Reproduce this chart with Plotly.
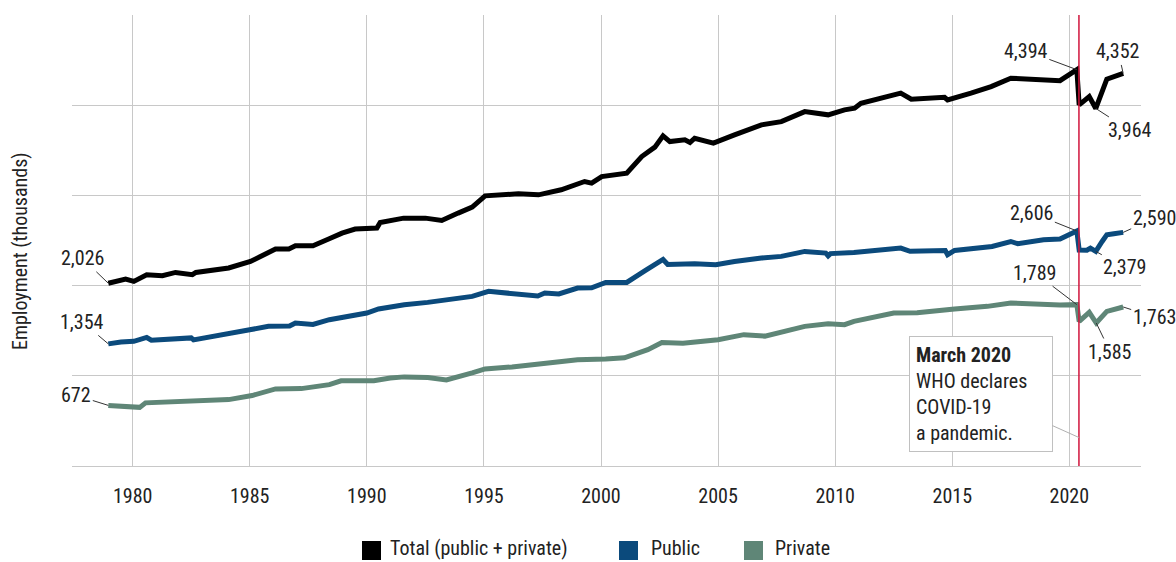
import plotly.graph_objects as go

# ---------------- data (thousands) ----------------
total_years = [1978.96, 1979.7, 1980.05, 1980.6, 1981.27, 1981.83, 1982.55, 1982.7, 1984.1, 1985.03,
               1986.1, 1986.67, 1986.95, 1987.7, 1988.37, 1988.94, 1989.5, 1990.0, 1990.43, 1990.57,
               1991.57, 1992.5, 1993.2, 1993.9, 1994.5, 1995.05, 1995.62, 1996.47, 1997.33, 1998.3,
               1999.3, 1999.6, 2000.03, 2001.1, 2001.74, 2002.3, 2002.65, 2002.94, 2003.58, 2003.8,
               2004.0, 2004.8, 2005.7, 2006.85, 2007.7, 2008.7, 2009.7, 2010.4, 2010.83, 2011.1,
               2012.8, 2013.25, 2014.67, 2014.8, 2015.8, 2016.66, 2017.5, 2018.93, 2019.6, 2020.32,
               2020.42, 2020.85, 2021.13, 2021.6, 2022.3]
total_vals = [2026, 2073, 2047, 2121, 2110, 2146, 2121, 2146, 2195, 2268,
              2405, 2405, 2442, 2442, 2516, 2582, 2627, 2638, 2638, 2700,
              2748, 2748, 2722, 2804, 2870, 2995, 3006, 3017, 3006, 3062,
              3154, 3136, 3209, 3247, 3431, 3535, 3660, 3597, 3616, 3586,
              3634, 3579, 3671, 3782, 3818, 3929, 3893, 3948, 3967, 4022,
              4133, 4066, 4088, 4059, 4133, 4206, 4299, 4280, 4272, 4394,
              4003, 4095, 3964, 4288, 4352]

public_years = [1978.96, 1979.5, 1980.05, 1980.6, 1980.8, 1981.3, 1982.0, 1982.5, 1982.6, 1983.3,
                1984.1, 1985.0, 1985.8, 1986.7, 1986.95, 1987.7, 1988.4, 1989.0, 1989.5, 1990.0,
                1990.5, 1991.6, 1992.6, 1993.6, 1994.5, 1995.2, 1996.2, 1997.3, 1997.6, 1998.2,
                1999.0, 1999.6, 2000.2, 2001.1, 2001.9, 2002.4, 2002.65, 2002.85, 2004.0, 2004.9,
                2005.7, 2006.85, 2007.7, 2008.7, 2009.6, 2009.7, 2009.8, 2010.8, 2011.8, 2012.8,
                2013.2, 2014.7, 2014.8, 2015.1, 2016.7, 2017.5, 2017.8, 2018.9, 2019.6, 2020.32,
                2020.42, 2020.75, 2020.9, 2021.13, 2021.4, 2021.6, 2021.9, 2022.3]
public_vals = [1354, 1375, 1382, 1425, 1395, 1401, 1415, 1420, 1398, 1430,
               1456, 1511, 1548, 1552, 1586, 1570, 1622, 1650, 1678, 1696,
               1741, 1788, 1814, 1844, 1880, 1936, 1918, 1885, 1918, 1907,
               1973, 1975, 2035, 2035, 2168, 2242, 2290, 2235, 2242, 2231,
               2268, 2305, 2324, 2379, 2360, 2330, 2355, 2368, 2390, 2416,
               2380, 2390, 2342, 2390, 2434, 2489, 2464, 2508, 2516, 2606,
               2395, 2392, 2416, 2379, 2489, 2563, 2575, 2590]

private_years = [1978.96, 1979.5, 1980.05, 1980.3, 1980.55, 1981.0, 1982.0, 1983.0, 1984.1, 1985.1,
                 1986.1, 1987.2, 1988.4, 1988.9, 1989.5, 1990.3, 1991.0, 1991.6, 1992.6, 1993.4,
                 1994.5, 1995.05, 1996.2, 1997.6, 1999.0, 2000.2, 2001.0, 2002.0, 2002.6, 2003.5,
                 2004.3, 2005.0, 2006.1, 2007.0, 2008.7, 2009.7, 2010.4, 2010.8, 2012.5, 2013.5,
                 2015.1, 2016.5, 2017.5, 2018.9, 2019.6, 2020.32, 2020.42, 2020.85, 2021.15, 2021.6,
                 2022.3]
private_vals = [672, 660, 644, 650, 700, 705, 718, 725, 736, 781,
                855, 858, 902, 945, 950, 945, 975, 988, 980, 955,
                1032, 1076, 1098, 1135, 1179, 1187, 1200, 1290, 1368, 1360,
                1380, 1400, 1456, 1440, 1548, 1578, 1567, 1604, 1696, 1700,
                1741, 1770, 1807, 1788, 1785, 1789, 1604, 1703, 1585, 1714,
                1763]

series_names = ["Total (public + private)", "Public", "Private"]
series_colors = ["#000000", "#0b4a7c", "#5f8677"]
x_ticks = [1980, 1985, 1990, 1995, 2000, 2005, 2010, 2015, 2020]
covid_x = 2020.41

FONT = "Liberation Sans Narrow, Roboto Condensed, Arial Narrow, Roboto, sans-serif"
TXT = "#222222"

W, H = 1176, 562
ML, MR, MT, MB = 72, 35, 15, 96
PW, PH = W - ML - MR, H - MT - MB


def px(xp):
    return (xp - ML) / PW


def py(yp):
    return (H - MB - yp) / PH


fig = go.Figure()
for name, xs, ys, col in zip(series_names,
                             [total_years, public_years, private_years],
                             [total_vals, public_vals, private_vals],
                             series_colors):
    fig.add_trace(go.Scatter(x=xs, y=ys, mode="lines", name=name,
                             line=dict(color=col, width=5), showlegend=False))

# value labels
labels = [
    (total_years[0], total_vals[0], -26, -25),
    (public_years[0], public_vals[0], -26, -22),
    (private_years[0], private_vals[0], -32, -10),
    (2020.32, 4394, -51, -19),
    (total_years[-1], total_vals[-1], -5, -22),
    (2021.13, 3964, 34, 22),
    (2020.32, 2606, -45, -18),
    (public_years[-1], public_vals[-1], 31, -14),
    (2021.13, 2379, 29, 16),
    (2020.32, 1789, -42, -32),
    (private_years[-1], private_vals[-1], 31, 10),
    (2021.15, 1585, 14, 29),
]
for x, y, ax, ay in labels:
    fig.add_annotation(x=x, y=y, text=f"{y:,}", showarrow=True, arrowhead=0,
                       arrowwidth=1, arrowcolor="#333333", ax=ax, ay=ay,
                       font=dict(family=FONT, size=20, color=TXT), standoff=0)

# covid callout
fig.add_annotation(x=covid_x, y=316, ax=-98, ay=-44, showarrow=True, arrowhead=0,
                   arrowwidth=1, arrowcolor="#b0b0b0",
                   text="<b>March 2020</b><br>WHO declares<br>COVID-19<br>a pandemic.",
                   align="left", bgcolor="white", bordercolor="#c0c0c0", borderwidth=1,
                   borderpad=6, width=130,
                   font=dict(family=FONT, size=20, color=TXT))

fig.add_shape(type="line", xref="x", yref="paper", x0=covid_x, x1=covid_x, y0=0, y1=1,
              line=dict(color="#d1143c", width=1.5))

# y axis title
fig.add_annotation(xref="paper", yref="paper", x=px(20), y=py(251), xanchor="center",
                   yanchor="middle", textangle=-90, text="Employment (thousands)",
                   showarrow=False, font=dict(family=FONT, size=20, color=TXT))

# manual legend (swatch squares + labels)
legend_sq = [362, 619, 744]
legend_tx = [388, 649, 773]
for name, col, sx, tx in zip(series_names, series_colors, legend_sq, legend_tx):
    fig.add_shape(type="rect", xref="paper", yref="paper",
                  x0=px(sx), x1=px(sx + 19), y0=py(560), y1=py(541),
                  fillcolor=col, line=dict(width=0))
    fig.add_annotation(xref="paper", yref="paper", x=px(tx), y=py(548), xanchor="left",
                       yanchor="middle", text=name, showarrow=False,
                       font=dict(family=FONT, size=20, color=TXT))

fig.update_layout(
    width=W, height=H, autosize=False, showlegend=False,
    margin=dict(l=ML, r=MR, t=MT, b=MB, autoexpand=False),
    paper_bgcolor="white", plot_bgcolor="white",
    font=dict(family=FONT, size=20, color=TXT),
    xaxis=dict(range=[1977.41, 2023.06], tickvals=x_ticks, ticktext=[str(t) for t in x_ticks],
               showgrid=True, gridcolor="#c8c8c8", gridwidth=1, zeroline=False,
               showline=False, ticks="", ticklabelstandoff=16,
               tickfont=dict(family=FONT, size=20, color=TXT)),
    yaxis=dict(range=[0, 5000], dtick=1000, tick0=0, showticklabels=False,
               showgrid=True, gridcolor="#c8c8c8", gridwidth=1,
               zeroline=True, zerolinecolor="#c8c8c8", zerolinewidth=1, showline=False),
)

fig.write_html("out.html", config={"displayModeBar": False},
               post_script="document.body.style.margin='0';document.body.style.overflow='hidden';")
